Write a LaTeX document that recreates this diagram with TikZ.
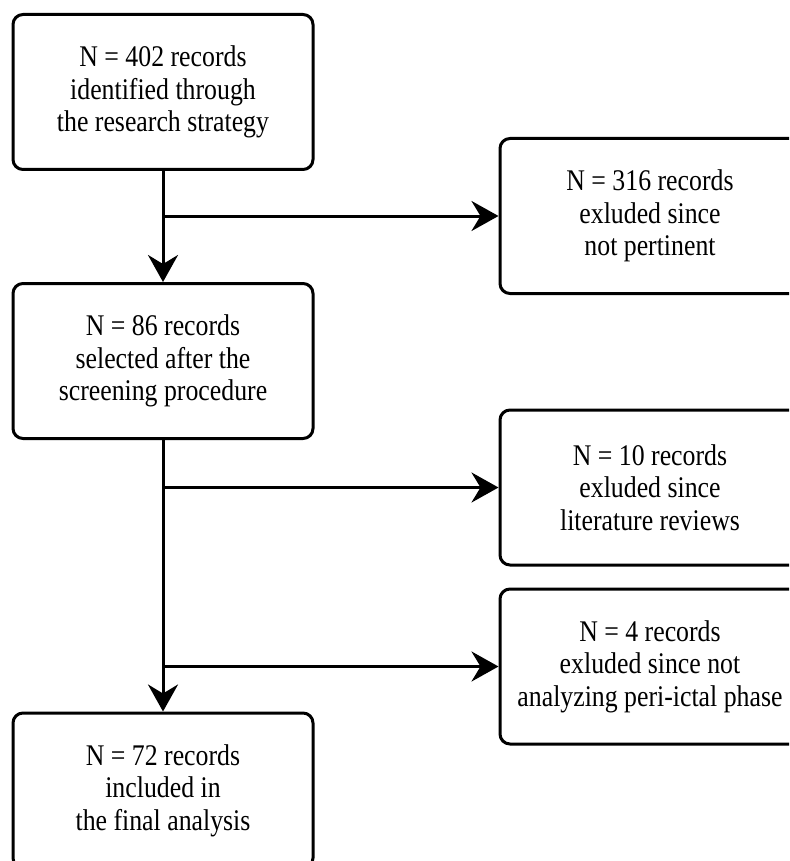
\documentclass[tikz,border=0pt]{standalone}
\usepackage{fontspec}
\setmainfont{Liberation Serif}[FakeStretch=0.86]
\usetikzlibrary{arrows.meta}
\begin{document}
\begin{tikzpicture}[x=1pt,y=-1pt,
  box/.style={draw, line width=3pt, rounded corners=10pt, minimum width=300pt,
    minimum height=155pt, inner sep=0pt, align=center,
    font=\fontsize{30}{32.5}\selectfont},
  arr/.style={line width=3pt, -{Stealth[length=27pt,width=30pt,inset=9pt]}}]
\path[use as bounding box, clip] (0,0) rectangle (789,861);
\node[box] (b1) at (163,92) {N = 402 records\\identified through\\the research strategy};
\node[box] (b2) at (163,361) {N = 86 records\\selected after the\\screening procedure};
\node[box] (b3) at (163,790.5) {N = 72 records\\included in\\the final analysis};
\node[box] (r1) at (650,216) {N = 316 records\\exluded since\\not pertinent};
\node[box] (r2) at (650,487.5) {N = 10 records\\exluded since\\literature reviews};
\node[box] (r3) at (650,666.5) {N = 4 records\\exluded since not\\analyzing peri-ictal phase};
\draw[arr] (b1.south) -- (b2.north);
\draw[arr] (b2.south) -- (b3.north);
\draw[arr] (b1.south |- r1.west) -- (r1.west);
\draw[arr] (b2.south |- r2.west) -- (r2.west);
\draw[arr] (b2.south |- r3.west) -- (r3.west);
\end{tikzpicture}
\end{document}
